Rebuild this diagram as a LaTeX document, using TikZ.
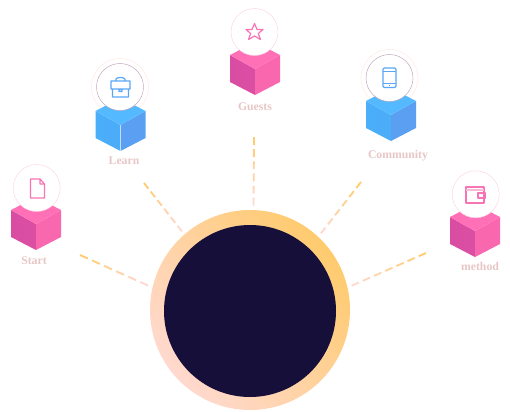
\documentclass[tikz,border=0pt]{standalone}
\usepackage{fontspec}
\setmainfont{Liberation Serif}
\usepackage{tikz}
\usetikzlibrary{calc}
\definecolor{hubdark}{HTML}{150F3A}
\definecolor{ringpale}{HTML}{FFD9CF}
\definecolor{ringgold}{HTML}{FFCB6E}
\definecolor{pinktop}{HTML}{FF70B6}
\definecolor{pinkleft}{HTML}{D84CA2}
\definecolor{pinkright}{HTML}{F968AE}
\definecolor{bluetop}{HTML}{55B9FF}
\definecolor{blueleft}{HTML}{4AAEF9}
\definecolor{blueright}{HTML}{5A9FF1}
\definecolor{iconpink}{HTML}{F874B4}
\definecolor{iconblue}{HTML}{5CA6F6}
\definecolor{labelpink}{HTML}{E8C6C6}
\definecolor{edgemauve}{HTML}{B79AAE}
\begin{document}
\begin{tikzpicture}[
    x=0.75pt, y=-0.75pt,
    every node/.style={font=\fontsize{8.8}{10}\selectfont\bfseries},
    hub/.style={circle, draw=none, minimum size=172*0.75pt, inner sep=0pt, fill=hubdark},
    ring/.style={circle, minimum size=200*0.75pt, inner sep=0pt, shade, left color=ringpale, right color=ringgold, shading angle=130},
    badge/.style={circle, draw=#1, line width=0.3pt, fill=white, minimum size=47*0.75pt, inner sep=0pt},
    halo/.style={circle, draw=ringpale!50, line width=0.5pt, minimum size=57*0.75pt, inner sep=0pt},
    lbl/.style={text=labelpink},
    icon/.style={line width=0.9pt, line join=round},
    link/.style={line width=1.4pt}
]
\useasboundingbox (0,0) rectangle (510,411);
% central disc
\node[ring] (rim) at (250,310) {};
\node[hub] (hub) at (250,311) {};
% halos sit behind the blue cubes
\foreach \x/\y/\name in {120/87/b, 389.5/78/d}{
    \node[halo] (halo\name) at (\x,\y) {};
}
% cubes: x, top of the side edges, colour
\foreach \x/\y/\kind in {36/210/pink, 120.5/111/blue, 255/55/pink, 391/101/blue, 475/217/pink}{
    \shade[left color=\kind left, right color=\kind left!90!\kind right] (\x-25,\y) -- (\x,\y+14) -- (\x,\y+40) -- (\x-25,\y+27) -- cycle;
    \fill[\kind right] (\x+25,\y) -- (\x,\y+14) -- (\x,\y+40) -- (\x+25,\y+27) -- cycle;
    \fill[\kind top] (\x-25,\y) -- (\x,\y-13) -- (\x+25,\y) -- (\x,\y+14) -- cycle;
}
% badges
\foreach \x/\y/\name in {36.7/188/a, 254.5/32/c, 475.7/194.3/e}{
    \node[badge=iconpink!35] (badge\name) at (\x,\y) {};
}
\foreach \x/\y/\name in {120/87/b, 389.5/78/d}{
    \node[badge=edgemauve] (badge\name) at (\x,\y) {};
}
% labels
\foreach \x/\y/\name/\txt in {34/260.5/a/Start, 124/161/b/Learn, 255/106.5/c/Guests, 398/156/d/Community, 480/266/e/method}{
    \node[lbl] (lbl\name) at (\x,\y) {\txt};
}
% free ends of the dashed links
\coordinate (enda) at (80,255);
\coordinate (endb) at (144,183);
\coordinate (endc) at (254,137);
\coordinate (endd) at (361,182);
\coordinate (ende) at (426,253);
\foreach \from/\to/\n in {enda/rim.167/6, endb/rim.131/6, endc/rim.88/6, endd/rim.47/6, ende/rim.13/7}{
    \foreach \k in {1,...,\n}{
        \pgfmathsetmacro\pa{(\k-1)/\n}
        \pgfmathsetmacro\pb{(\k-0.35)/\n}
        \pgfmathsetmacro\mixv{100*(\k-1)/(\n-1)}
        \draw[link, draw=ringpale!\mixv!ringgold] ($(\from)!\pa!(\to)$) -- ($(\from)!\pb!(\to)$);
    }
}
% icons
\draw[icon, iconpink] (30.5,179) -- (40,179) -- (44.5,184) -- (44.5,198) -- (30.5,198) -- cycle (40,179) -- (40,184) -- (44.5,184);
\draw[icon, iconblue] (111,81) rectangle (130,89) (112.5,89) rectangle (128.5,97) (116,81) -- (116,79) .. controls (117,77) and (124,77) .. (125,79) -- (125,81) (119,89.5) rectangle (122,91.5);
\draw[icon, iconpink] (254.5,23.5) -- (257,29.5) -- (263,29.5) -- (258.3,33.5) -- (260.5,39.5) -- (254.5,36) -- (248.5,39.5) -- (250.7,33.5) -- (246,29.5) -- (252,29.5) -- cycle;
\draw[icon, iconblue, rounded corners=1pt] (383,68) rectangle (396,87.5);
\draw[icon, iconblue, line width=0.6pt] (383,71.5) -- (396,71.5) (383,83) -- (396,83) (389,85.2) -- (390,85.2);
\draw[icon, iconpink] (466,187) rectangle (484,203) (478,193) rectangle (485.5,198);
\draw[icon, iconpink!50] (466,190) -- (484,190);
\end{tikzpicture}
\end{document}
